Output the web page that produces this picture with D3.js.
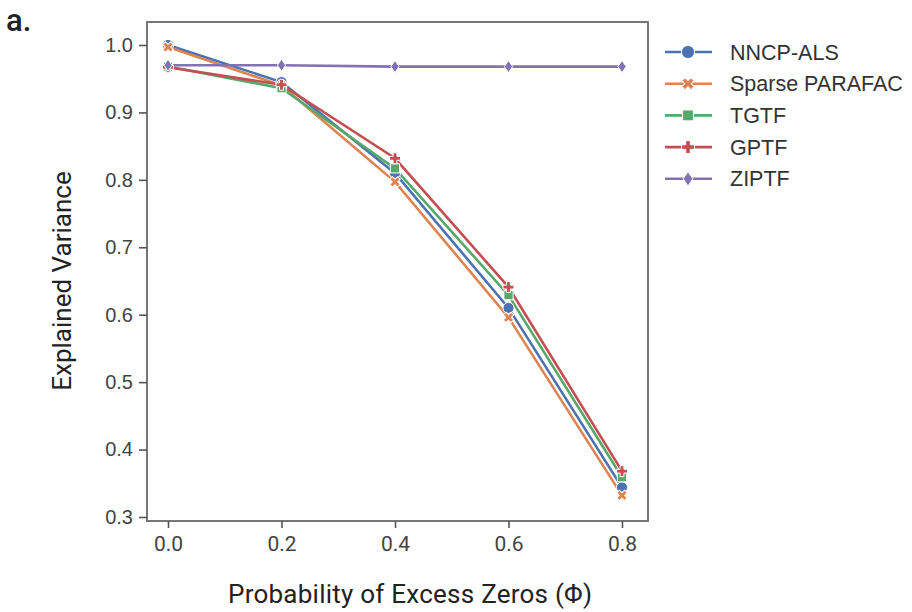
<!DOCTYPE html>
<html>
<head>
<meta charset="utf-8">
<script src="https://cdn.jsdelivr.net/npm/d3@7"></script>
<style>
  body { margin: 0; background: #fff; }
  svg { display: block; }
</style>
</head>
<body>
<div id="chart"></div>
<script>
// data
const phi = [0.0, 0.2, 0.4, 0.6, 0.8];
const xTicks = ["0.0", "0.2", "0.4", "0.6", "0.8"];
const yTicks = [0.3, 0.4, 0.5, 0.6, 0.7, 0.8, 0.9, 1.0];
const methods = ["NNCP-ALS", "Sparse PARAFAC", "TGTF", "GPTF", "ZIPTF"];
const nncpAls = [1.000, 0.945, 0.810, 0.610, 0.344];
const sparseParafac = [0.997, 0.940, 0.797, 0.596, 0.332];
const tgtf = [0.968, 0.936, 0.817, 0.629, 0.359];
const gptf = [0.967, 0.941, 0.832, 0.641, 0.368];
const ziptf = [0.970, 0.970, 0.968, 0.968, 0.968];

const seriesValues = [nncpAls, sparseParafac, tgtf, gptf, ziptf];
const colors = ["#4c72b0", "#dd8452", "#55a868", "#c44e52", "#8172b3"];
const symbols = ["circle", "x", "square", "plus", "diamond"];

const w = 912, h = 612;
const frame = { left: 147, right: 648, top: 22, bottom: 521 };

const svg = d3.select("#chart").append("svg")
  .attr("width", w)
  .attr("height", h);

const xScale = d3.scaleLinear()
  .domain([0, 0.8])
  .range([168, 622]);

const yScale = d3.scaleLinear()
  .domain([0.3, 1.0])
  .range([517, 45]);

// frame
svg.append("rect")
  .attr("x", frame.left)
  .attr("y", frame.top)
  .attr("width", frame.right - frame.left)
  .attr("height", frame.bottom - frame.top)
  .attr("fill", "none")
  .attr("stroke", "#777")
  .attr("stroke-width", 2);

// axes
const yAxis = d3.axisLeft(yScale)
  .tickValues(yTicks)
  .tickFormat(d3.format(".1f"))
  .tickSize(8)
  .tickPadding(6);

const gy = svg.append("g")
  .attr("transform", "translate(" + frame.left + ",0)")
  .call(yAxis);
gy.select(".domain").remove();
gy.selectAll("line").attr("stroke", "#555").attr("stroke-width", 1.6);
gy.selectAll("text")
  .attr("font-family", "Liberation Sans, Arial, sans-serif")
  .attr("font-size", 20)
  .attr("fill", "#444");

const xAxis = d3.axisBottom(xScale)
  .tickValues(phi)
  .tickFormat((d, i) => xTicks[i])
  .tickSize(7)
  .tickPadding(8);

const gx = svg.append("g")
  .attr("transform", "translate(0," + frame.bottom + ")")
  .call(xAxis);
gx.select(".domain").remove();
gx.selectAll("line").attr("stroke", "#555").attr("stroke-width", 1.6);
gx.selectAll("text")
  .attr("font-family", "Roboto, sans-serif")
  .attr("font-size", 21)
  .attr("fill", "#444");

// axis labels
svg.append("text")
  .text("Probability of Excess Zeros (Φ)")
  .attr("x", 410)
  .attr("y", 603)
  .attr("text-anchor", "middle")
  .attr("font-family", "Roboto, sans-serif")
  .attr("font-size", 26)
  .attr("textLength", 364)
  .attr("fill", "#222");

svg.append("text")
  .text("Explained Variance")
  .attr("transform", "rotate(-90)")
  .attr("x", -281)
  .attr("y", 71)
  .attr("text-anchor", "middle")
  .attr("font-family", "Roboto, sans-serif")
  .attr("font-size", 26)
  .attr("fill", "#222");

svg.append("text")
  .text("a.")
  .attr("x", 6)
  .attr("y", 31)
  .attr("font-family", "Roboto, sans-serif")
  .attr("font-weight", 500)
  .attr("font-size", 31)
  .attr("fill", "#222");

// markers
function markerPath(kind, s) {
  const r = s / 2;
  if (kind === "circle") return d3.symbol(d3.symbolCircle, s * s * 0.8)();
  if (kind === "square") return d3.symbol(d3.symbolSquare, s * s * 0.7)();
  if (kind === "diamond") {
    const a = r * 1.1, b = r * 0.75;
    return `M0,${-a}L${b},0L0,${a}L${-b},0Z`;
  }
  // plus and x share a shape; x is rotated
  const t = r * 0.35;
  return `M${-t},${-r}H${t}V${-t}H${r}V${t}H${t}V${r}H${-t}V${t}H${-r}V${-t}H${-t}Z`;
}

const line = d3.line()
  .x((d, i) => xScale(phi[i]))
  .y((d) => yScale(d));

seriesValues.forEach((vals, k) => {
  svg.append("path")
    .datum(vals)
    .attr("d", line)
    .attr("fill", "none")
    .attr("stroke", colors[k])
    .attr("stroke-width", 2.6);
});

seriesValues.forEach((vals, k) => {
  svg.selectAll(".m" + k)
    .data(vals)
    .enter()
    .append("path")
    .attr("class", "m" + k)
    .attr("d", markerPath(symbols[k], 11))
    .attr("transform", (d, i) => "translate(" + xScale(phi[i]) + "," + yScale(d) + ")" + (symbols[k] === "x" ? " rotate(45)" : ""))
    .attr("fill", colors[k])
    .attr("stroke", "#fff")
    .attr("stroke-width", 1);
});

// legend
const legend = svg.append("g")
  .attr("transform", "translate(665,52)");

methods.forEach((name, k) => {
  const g = legend.append("g")
    .attr("transform", "translate(0," + (k * 31.7) + ")");
  g.append("line")
    .attr("x1", 0).attr("x2", 47)
    .attr("y1", 0).attr("y2", 0)
    .attr("stroke", colors[k])
    .attr("stroke-width", 2.6);
  g.append("path")
    .attr("d", markerPath(symbols[k], 13))
    .attr("transform", "translate(23,0)" + (symbols[k] === "x" ? " rotate(45)" : ""))
    .attr("fill", colors[k])
    .attr("stroke", "#fff")
    .attr("stroke-width", 1);
  g.append("text")
    .text(name)
    .attr("x", 65)
    .attr("y", 0)
    .attr("dy", "0.35em")
    .attr("font-family", "Liberation Sans, Arial, sans-serif")
    .attr("font-size", 21.5)
    .attr("fill", "#333");
});
</script>
</body>
</html>
